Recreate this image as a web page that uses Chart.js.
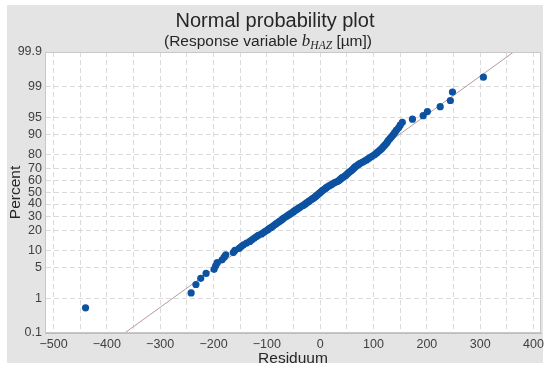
<!DOCTYPE html>
<html>
<head>
<meta charset="utf-8">
<script src="https://cdn.jsdelivr.net/npm/chart.js@4.4.1/dist/chart.umd.min.js"></script>
<style>
  html, body { margin: 0; padding: 0; background: #fff; }
  canvas { display: block; }
</style>
</head>
<body>
<canvas id="npp" width="550" height="373"></canvas>
<script>
(function () {
  'use strict';

  // residuals, sorted (x)
  const residuals = [
    -440, -242, -233, -224, -214, -199, -196, -193, -184, -180,
    -177, -163, -160, -152, -148, -144, -138, -132, -128, -124,
    -120, -116, -110, -106, -103, -99, -96, -92, -89, -86,
    -83, -80, -77, -74, -71, -69, -66, -63, -60, -57,
    -54, -51, -49, -46, -43, -41, -38, -35, -32, -29,
    -27, -25, -22, -20, -17, -15, -12, -10, -8, -6,
    -4, -2, 0,
    2, 4, 6, 9, 11, 13, 16, 19, 22, 25,
    28, 32, 35, 37, 39, 41, 44, 47, 49, 51,
    53, 55, 58, 60, 62, 64, 66, 69, 72, 75,
    79, 83, 87, 90, 93, 97, 101, 104, 107, 110,
    113, 116, 118, 121, 124, 126, 128, 131, 134, 137,
    140, 143, 147, 150, 154, 173, 193, 201, 225, 244,
    248, 306,
  ];

  // percent (y)
  const percents = [
    0.56, 1.36, 2.15, 2.95, 3.75, 4.55, 5.34, 6.14, 6.94, 7.74,
    8.53, 9.33, 10.13, 10.93, 11.72, 12.52, 13.32, 14.11, 14.91, 15.71,
    16.51, 17.30, 18.10, 18.90, 19.70, 20.49, 21.29, 22.09, 22.89, 23.68,
    24.48, 25.28, 26.08, 26.87, 27.67, 28.47, 29.27, 30.06, 30.86, 31.66,
    32.46, 33.25, 34.05, 34.85, 35.65, 36.44, 37.24, 38.04, 38.84, 39.63,
    40.43, 41.23, 42.03, 42.82, 43.62, 44.42, 45.22, 46.01, 46.81, 47.61,
    48.41, 49.20, 50.00,
    50.80, 51.60, 52.39, 53.19, 53.99, 54.78, 55.58, 56.38, 57.18, 57.97,
    58.77, 59.57, 60.37, 61.16, 61.96, 62.76, 63.56, 64.35, 65.15, 65.95,
    66.75, 67.54, 68.34, 69.14, 69.94, 70.73, 71.53, 72.33, 73.13, 73.92,
    74.72, 75.52, 76.32, 77.11, 77.91, 78.71, 79.51, 80.30, 81.10, 81.90,
    82.70, 83.49, 84.29, 85.09, 85.89, 86.68, 87.48, 88.28, 89.08, 89.87,
    90.67, 91.47, 92.27, 93.06, 93.86, 94.66, 95.45, 96.25, 97.05, 97.85,
    98.64, 99.44,
  ];

  // tick labels
  const percentTicks = [0.1, 1, 5, 10, 20, 30, 40, 50, 60, 70, 80, 90, 95, 99, 99.9];
  const residualGrid = [-500, -450, -400, -350, -300, -250, -200, -150, -100, -50, 0, 50, 100, 150, 200, 250, 300, 350, 400];

  // fitted normal line (mean, std. dev.)
  const fitMean = -2;
  const fitSd = 118;

  const FONT = "'Liberation Sans', Arial, sans-serif";

  // inverse normal CDF (Acklam)
  function probit(p) {
    const a = [-3.969683028665376e+01, 2.209460984245205e+02, -2.759285104469687e+02, 1.383577518672690e+02, -3.066479806614716e+01, 2.506628277459239e+00];
    const b = [-5.447609879822406e+01, 1.615858368580409e+02, -1.556989798598866e+02, 6.680131188771972e+01, -1.328068155288572e+01];
    const c = [-7.784894002430293e-03, -3.223964580411365e-01, -2.400758296431398e+00, -2.549732539343734e+00, 4.374664141464968e+00, 2.938163982698783e+00];
    const d = [7.784695709041462e-03, 3.224671290700398e-01, 2.445134137142996e+00, 3.754408661907416e+00];
    const pl = 0.02425;
    let q, r;
    if (p < pl) {
      q = Math.sqrt(-2 * Math.log(p));
      return (((((c[0] * q + c[1]) * q + c[2]) * q + c[3]) * q + c[4]) * q + c[5]) / ((((d[0] * q + d[1]) * q + d[2]) * q + d[3]) * q + 1);
    }
    if (p > 1 - pl) {
      q = Math.sqrt(-2 * Math.log(1 - p));
      return -(((((c[0] * q + c[1]) * q + c[2]) * q + c[3]) * q + c[4]) * q + c[5]) / ((((d[0] * q + d[1]) * q + d[2]) * q + d[3]) * q + 1);
    }
    q = p - 0.5;
    r = q * q;
    return (((((a[0] * r + a[1]) * r + a[2]) * r + a[3]) * r + a[4]) * r + a[5]) * q / (((((b[0] * r + b[1]) * r + b[2]) * r + b[3]) * r + b[4]) * r + 1);
  }

  const zMin = probit(percentTicks[0] / 100);
  const zMax = probit(percentTicks[percentTicks.length - 1] / 100);

  const points = residuals.map((r, i) => ({ x: r, y: probit(percents[i] / 100) }));
  const fitLine = [
    { x: fitMean + fitSd * zMin, y: zMin },
    { x: fitMean + fitSd * zMax, y: zMax },
  ];

  // 背景・タイトル
  const decor = {
    id: 'decor',
    beforeDraw(chart) {
      const { ctx, chartArea: a } = chart;
      ctx.save();
      ctx.fillStyle = '#ffffff';
      ctx.fillRect(0, 0, chart.width, chart.height);
      ctx.fillStyle = '#e4e4e4';
      ctx.fillRect(7, 5, 536, 358);
      ctx.fillStyle = '#ffffff';
      ctx.fillRect(a.left, a.top, a.right - a.left, a.bottom - a.top);
      ctx.restore();
    },
    afterDraw(chart) {
      const { ctx, chartArea: a } = chart;
      ctx.save();
      ctx.strokeStyle = '#c8c8c8';
      ctx.lineWidth = 1;
      ctx.strokeRect(a.left + 0.5, a.top + 0.5, a.right - a.left - 1, a.bottom - a.top - 1);

      ctx.fillStyle = '#262626';
      ctx.textBaseline = 'alphabetic';
      ctx.textAlign = 'left';
      ctx.font = '20px ' + FONT;
      const t1 = 'Normal probability plot';
      ctx.fillText(t1, 275 - ctx.measureText(t1).width / 2, 27);

      // subtitle with subscript
      const parts = [
        { text: '(Response variable ', font: '15.5px ' + FONT, dy: 0 },
        { text: 'b', font: "italic 17px 'Liberation Serif', 'DejaVu Serif', serif", dy: 0 },
        { text: 'HAZ', font: "italic 11.5px 'Liberation Serif', 'DejaVu Serif', serif", dy: 3 },
        { text: ' [µm])', font: '15.5px ' + FONT, dy: 0 },
      ];
      let w = 0;
      parts.forEach(p => { ctx.font = p.font; p.w = ctx.measureText(p.text).width; w += p.w; });
      let x = 268 - w / 2;
      parts.forEach(p => {
        ctx.font = p.font;
        ctx.fillText(p.text, x, 46 + p.dy);
        x += p.w;
      });
      ctx.restore();
    }
  };

  const ctx = document.getElementById('npp').getContext('2d');

  new Chart(ctx, {
    type: 'scatter',
    data: {
      datasets: [
        {
          data: points,
          backgroundColor: '#0d52a1',
          borderColor: '#0d52a1',
          borderWidth: 0,
          pointRadius: 3.6,
          order: 1,
        },
        {
          type: 'line',
          data: fitLine,
          borderColor: '#b89a9a',
          borderWidth: 1,
          pointRadius: 0,
          fill: false,
          order: 2,
        },
      ],
    },
    options: {
      responsive: false,
      animation: false,
      events: [],
      layout: { padding: { top: 52, right: 9, bottom: 0, left: 0 } },
      plugins: {
        legend: { display: false },
        tooltip: { enabled: false },
      },
      scales: {
        x: {
          type: 'linear',
          min: -516,
          max: 414,
          afterBuildTicks: s => { s.ticks = residualGrid.map(v => ({ value: v })); },
          afterFit: s => { s.height = 40; },
          grid: { color: '#dadada', lineWidth: 1, drawTicks: false },
          border: { color: '#bdbdbd', dash: [5, 3] },
          ticks: {
            autoSkip: false,
            maxRotation: 0,
            padding: 4,
            color: '#404040',
            font: { family: FONT, size: 12.5 },
            callback: v => (v % 100 === 0 ? String(v).replace('-', '\u2212') : ''),
          },
          title: {
            display: true,
            text: 'Residuum',
            color: '#262626',
            font: { family: FONT, size: 15.5 },
            padding: { top: 0, bottom: 5 },
          },
        },
        y: {
          type: 'linear',
          min: zMin,
          max: zMax,
          afterBuildTicks: s => { s.ticks = percentTicks.map(p => ({ value: probit(p / 100) })); },
          afterFit: s => { s.width = 45; },
          grid: { color: '#dadada', lineWidth: 1, drawTicks: false },
          border: { color: '#bdbdbd', dash: [5, 3] },
          ticks: {
            autoSkip: false,
            padding: 3,
            color: '#404040',
            font: { family: FONT, size: 12.5 },
            callback: (v, i) => String(percentTicks[i]),
          },
          title: {
            display: true,
            text: 'Percent',
            color: '#262626',
            font: { family: FONT, size: 15.5 },
            padding: { top: 6, bottom: 0 },
          },
        },
      },
    },
    plugins: [decor],
  });
})();
</script>
</body>
</html>
